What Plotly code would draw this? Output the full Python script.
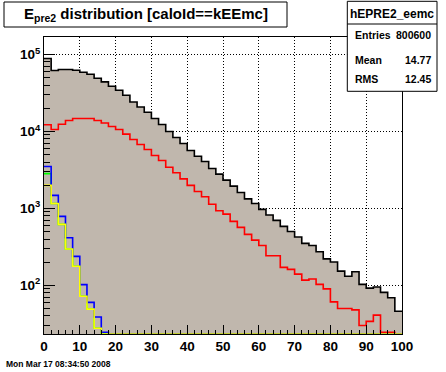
import plotly.graph_objects as go

# ---------------- data ----------------
bin_width = 2
bin_lo = list(range(0, 100, 2))  # 50 bins, 0..100

total = [88700, 62000, 63800, 63800, 62500, 58900, 55500, 49200, 44100, 38700,
         34400, 29600, 24200, 20800, 17800, 14750, 12300, 10000, 8360, 6980,
         5660, 4770, 4070, 3300, 2790, 2330, 1950, 1610, 1330, 1160,
         970, 819, 698, 583, 500, 424, 351, 330, 273, 221,
         201, 153, 131, 150, 103, 92, 95, 81, 69, 46]

red = [12200, 10600, 12400, 13900, 14750, 14750, 14750, 13900, 12900, 11600,
       10600, 9230, 7870, 6770, 5830, 4870, 4200, 3420, 2900, 2420,
       1990, 1660, 1420, 1130, 931, 843, 678, 566, 459, 387,
       329, 242, 242, 171, 161, 140, 117, 121, 103, 90,
       61, 50, 50, 48, 30, 34, 41, 24.5, 24.5, 0]

blue = [3510, 1476, 787, 415, 238, 102, 60, 38.7, 24.5] + [0] * 41
yellow = [1990, 1160, 620, 296, 177, 72, 49, 27.7] + [0] * 42
green = [2830, 1160, 620, 296, 177, 72, 49, 27.7] + [0] * 42

y_tick_vals = [100, 1000, 10000, 100000]
y_tick_text = ["10<sup>2</sup>", "10<sup>3</sup>", "10<sup>4</sup>", "10<sup>5</sup>"]
x_tick_vals = [0, 10, 20, 30, 40, 50, 60, 70, 80, 90, 100]
x_tick_text = [str(v) for v in x_tick_vals]

stats_name = "hEPRE2_eemc"
stats_rows = [("Entries", "800600"), ("Mean", "14.77"), ("RMS", "12.45")]
title_text = "E<sub>pre2</sub> distribution [caloId==kEEmc]"
date_text = "Mon Mar 17 08:34:50 2008"

y_min, y_max = 23.3, 169000
# ----------------------------------------------------------------

import math

FONT = "Liberation Sans, Arial, Helvetica, sans-serif"
FILL = "#c0b7ad"

W, H = 446, 372
ML, MR, MT, MB = 44, 44, 37, 38
PW, PH = W - ML - MR, H - MT - MB


def px(x):
    return (x - ML) / PW


def py(y):
    return (H - MB - y) / PH


def floor0(v):
    return [x if x > 0 else y_min for x in v]


edges = bin_lo + [bin_lo[-1] + bin_width]


def step(vals):
    v = floor0(vals)
    return edges, v + [v[-1]]


fig = go.Figure()
xs, ys = step(total)
fig.add_trace(go.Scatter(x=xs, y=ys, mode="lines", line_shape="hv",
                         fill="tozeroy", fillcolor=FILL,
                         line=dict(color="black", width=1.6), hoverinfo="skip"))

for vals, col in [(red, "#ff0000"), (green, "#00ff00"),
                  (blue, "#0000ff"), (yellow, "#ffff00")]:
    xs, ys = step(vals)
    fig.add_trace(go.Scatter(x=xs, y=ys, mode="lines", line_shape="hv",
                             line=dict(color=col, width=1.6), hoverinfo="skip"))

minor_y = []
for d in [10, 100, 1000, 10000, 100000]:
    for k in range(2, 10):
        v = k * d
        if y_min <= v <= y_max:
            minor_y.append(v)

fig.update_layout(
    width=W, height=H,
    margin=dict(l=ML, r=MR, t=MT, b=MB, pad=0),
    paper_bgcolor="white", plot_bgcolor="white",
    showlegend=False, hovermode=False,
    font=dict(family=FONT, color="black"),
)

fig.update_xaxes(
    range=[0, 100], showline=True, linecolor="black", linewidth=1, mirror=True,
    ticks="inside", ticklen=9, tickwidth=1, tickcolor="black",
    tickvals=x_tick_vals, ticktext=x_tick_text,
    tickfont=dict(family=FONT, size=13.5, weight="bold", color="black"),
    showgrid=True, gridcolor="black", gridwidth=1, griddash="1px,2px",
    minor=dict(ticks="inside", ticklen=4.5, dtick=2, tickcolor="black", showgrid=False),
    zeroline=False,
)
fig.update_yaxes(
    type="log", range=[math.log10(y_min), math.log10(y_max)],
    showline=True, linecolor="black", linewidth=1, mirror=True,
    ticks="inside", ticklen=11, tickwidth=1, tickcolor="black",
    tickvals=y_tick_vals, ticktext=y_tick_text,
    tickfont=dict(family=FONT, size=13.5, weight="bold", color="black"),
    showgrid=True, gridcolor="black", gridwidth=1, griddash="1px,2px",
    minor=dict(ticks="inside", ticklen=5.5, tickvals=minor_y, tickcolor="black", showgrid=False),
    zeroline=False,
)

shapes = []
annots = []
# title box
shapes.append(dict(type="rect", xref="paper", yref="paper",
                   x0=px(4), x1=px(287), y0=py(27), y1=py(2),
                   line=dict(color="black", width=1), fillcolor="white", layer="above"))
annots.append(dict(text=title_text, xref="paper", yref="paper", x=px(145.5), y=py(15),
                   xanchor="center", yanchor="middle", showarrow=False,
                   font=dict(family=FONT, size=15, weight="bold", color="black")))
# stats box
shapes.append(dict(type="rect", xref="paper", yref="paper",
                   x0=px(347.3), x1=px(437), y0=py(91.3), y1=py(1.3),
                   line=dict(color="black", width=1), fillcolor="white", layer="above"))
shapes.append(dict(type="line", xref="paper", yref="paper",
                   x0=px(347.3), x1=px(437), y0=py(24), y1=py(24),
                   line=dict(color="black", width=1), layer="above"))
annots.append(dict(text=stats_name, xref="paper", yref="paper", x=px(392.2), y=py(14),
                   xanchor="center", yanchor="middle", showarrow=False,
                   font=dict(family=FONT, size=12, weight="bold", color="black")))
for (lab, val), yy in zip(stats_rows, [35, 59.5, 79.5]):
    annots.append(dict(text=lab, xref="paper", yref="paper", x=px(352.5), y=py(yy),
                       xanchor="left", yanchor="middle", showarrow=False,
                       font=dict(family=FONT, size=10.5, weight="bold", color="black")))
    annots.append(dict(text=val, xref="paper", yref="paper", x=px(432.5), y=py(yy),
                       xanchor="right", yanchor="middle", showarrow=False,
                       font=dict(family=FONT, size=10.5, weight="bold", color="black")))
annots.append(dict(text=date_text, xref="paper", yref="paper", x=px(4), y=py(364),
                   xanchor="left", yanchor="middle", showarrow=False,
                   font=dict(family=FONT, size=8.5, weight="bold", color="black")))

fig.update_layout(shapes=shapes, annotations=annots)
fig.write_html("out.html", config={"displayModeBar": False, "staticPlot": True},
               post_script="document.body.style.margin='0';document.body.style.overflow='hidden';")
